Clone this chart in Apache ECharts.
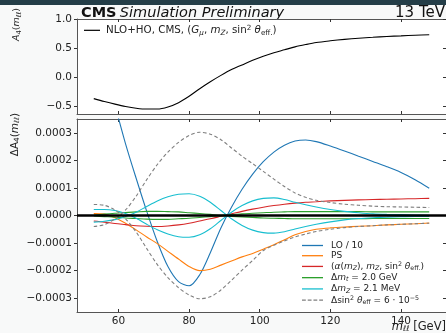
<!DOCTYPE html>
<html>
<head>
<meta charset="utf-8">
<script src="https://cdn.jsdelivr.net/npm/echarts@6/dist/echarts.min.js"></script>
<style>
html,body{margin:0;padding:0;background:#f8f9f9;}
#c{width:446px;height:333px;}
</style>
</head>
<body>
<div id="c"></div>
<script>
// m_ll grid [GeV]
var mll = [53,56,59,62,65,68,71,74,77,80,83,86,89,92,95,98,101,104,107,110,113,116,120,124,128,132,136,140,144,148];
// top panel: A4 (NLO+HO)
var a4 = [-0.37,-0.42,-0.465,-0.505,-0.535,-0.55,-0.55,-0.515,-0.44,-0.33,-0.2,-0.08,0.03,0.13,0.21,0.29,0.36,0.42,0.47,0.52,0.56,0.595,0.625,0.65,0.67,0.685,0.70,0.71,0.72,0.73];
// bottom panel: Delta A4, in units of 1e-4
var lo10 = [6.5,5.4,4.0,2.6,1.35,0.15,-0.95,-1.85,-2.4,-2.55,-2.15,-1.35,-0.45,0.3,0.95,1.5,1.95,2.3,2.55,2.7,2.74,2.68,2.52,2.34,2.15,1.96,1.77,1.56,1.3,0.99];
var ps = [0.07,0.05,-0.08,-0.28,-0.52,-0.78,-1.02,-1.3,-1.58,-1.85,-2.0,-1.95,-1.8,-1.65,-1.5,-1.38,-1.22,-1.06,-0.88,-0.7,-0.58,-0.5,-0.45,-0.42,-0.39,-0.37,-0.34,-0.32,-0.3,-0.27];
var alphaScheme = [-0.2,-0.24,-0.29,-0.33,-0.37,-0.39,-0.40,-0.38,-0.34,-0.28,-0.2,-0.12,-0.03,0.06,0.15,0.23,0.3,0.36,0.41,0.45,0.48,0.5,0.53,0.55,0.565,0.58,0.59,0.6,0.61,0.62];
var dmtUp = [0.02,0.05,0.08,0.11,0.13,0.15,0.15,0.14,0.13,0.1,0.07,0.04,0.01,0.03,0.06,0.08,0.1,0.12,0.13,0.14,0.14,0.14,0.14,0.14,0.14,0.13,0.13,0.13,0.13,0.13];
var dmtDn = [-0.02,-0.04,-0.06,-0.09,-0.11,-0.13,-0.14,-0.14,-0.12,-0.1,-0.07,-0.04,-0.01,-0.03,-0.05,-0.07,-0.09,-0.1,-0.11,-0.12,-0.12,-0.12,-0.12,-0.12,-0.12,-0.11,-0.11,-0.11,-0.11,-0.11];
var dmzA = [0.22,0.22,0.18,0.07,-0.1,-0.32,-0.52,-0.67,-0.77,-0.79,-0.7,-0.48,-0.18,0.12,0.36,0.53,0.62,0.64,0.58,0.48,0.39,0.31,0.22,0.15,0.1,0.06,0.04,0.03,0.02,0.01];
var dmzB = [-0.24,-0.21,-0.15,-0.04,0.12,0.33,0.53,0.68,0.77,0.79,0.7,0.48,0.18,-0.12,-0.36,-0.53,-0.62,-0.64,-0.59,-0.49,-0.4,-0.32,-0.23,-0.16,-0.11,-0.08,-0.06,-0.04,-0.03,-0.03];
var dsinUp = [-0.40,-0.33,-0.12,0.2,0.7,1.3,1.85,2.3,2.65,2.9,3.02,2.95,2.75,2.45,2.15,1.88,1.6,1.32,1.05,0.82,0.66,0.55,0.47,0.41,0.37,0.34,0.32,0.31,0.3,0.29];
var dsinDn = [0.40,0.37,0.2,-0.12,-0.6,-1.2,-1.78,-2.25,-2.62,-2.88,-3.02,-2.95,-2.7,-2.35,-1.98,-1.63,-1.27,-1.08,-0.92,-0.78,-0.67,-0.58,-0.5,-0.44,-0.4,-0.37,-0.34,-0.32,-0.3,-0.28];
// ticks
var xTicks = [60,80,100,120,140];
var topTicks = [-0.5,0,0.5,1.0];
var botTicks = [-3,-2,-1,0,1,2,3];

function pairs(v){ return mll.map(function(x,i){ return [x, v[i]]; }); }
var FF = 'DejaVu Sans';
function mkRich(fs, lh){
  var ss = fs*0.7, pd = fs*0.45;
  return {
    n:{fontSize:fs,fontFamily:FF,color:'#222',lineHeight:lh},
    i:{fontSize:fs,fontFamily:FF,fontStyle:'italic',color:'#222',lineHeight:lh},
    s:{fontSize:ss,fontFamily:FF,fontStyle:'italic',color:'#222',padding:[pd,0,0,0],lineHeight:lh},
    sn:{fontSize:ss,fontFamily:FF,color:'#222',padding:[pd,0,0,0],lineHeight:lh},
    p:{fontSize:ss,fontFamily:FF,color:'#222',padding:[0,0,pd,0],lineHeight:lh}
  };
}
var labels = {
  'LO / 10':'{n|LO / 10}',
  'PS':'{n|PS}',
  'alpha':'{n|(}{i|α}{n|(}{i|m}{s|Z}{n|), }{i|m}{s|Z}{n|, sin}{p|2}{n| }{i|θ}{sn|eff.}{n|)}',
  'dmt':'{n|Δ}{i|m}{s|t}{n| = 2.0 GeV}',
  'dmz':'{n|Δ}{i|m}{s|Z}{n| = 2.1 MeV}',
  'dsin':'{n|Δsin}{p|2}{n| }{i|θ}{sn|eff}{n| = 6 · 10}{p|−5}',
  'NLO':'{n|NLO+HO, CMS, (}{i|G}{s|μ}{n|, }{i|m}{s|Z}{n|, sin}{p|2}{n| }{i|θ}{sn|eff.}{n|)}'
};
var solidIcon = 'path://M0,0H22V1H0Z';
var dashIcon = 'path://M0,0H4V1H0Z M6,0H10V1H6Z M12,0H16V1H12Z M18,0H22V1H18Z';
var axisCol = '#555';
function xa(grid, pos, showLabel){
  return {type:'value', gridIndex:grid, position:pos, min:48.25, max:152.75,
    axisLine:{show:true,onZero:false,lineStyle:{color:axisCol,width:1}},
    axisTick:{show:true,inside:true,length:3,customValues:xTicks,lineStyle:{color:'#333'}},
    axisLabel:{show:showLabel,customValues:xTicks,margin:4,fontFamily:FF,fontSize:10.5,color:'#222'},
    splitLine:{show:false}};
}
function ya(grid, pos, ticks, mn, mx, fmt, showLabel){
  return {type:'value', gridIndex:grid, position:pos, min:mn, max:mx,
    axisLine:{show:true,onZero:false,lineStyle:{color:axisCol,width:1}},
    axisTick:{show:true,inside:pos==='right',length:3,customValues:ticks,lineStyle:{color:'#333'}},
    axisLabel:{show:showLabel,customValues:ticks,margin:5,fontFamily:FF,fontSize:10.5,color:'#222',formatter:fmt},
    splitLine:{show:false}};
}
function fmtTop(v){ return (v<0?'−':'')+Math.abs(v).toFixed(1); }
function fmtBot(v){ return (v<0?'−':'')+(Math.abs(v)*1e-4).toFixed(4); }
function ln(name, data, color, xi, yi, dashed){
  return {type:'line', name:name, data:pairs(data), xAxisIndex:xi, yAxisIndex:yi,
    smooth:0.3, showSymbol:false, symbol:'none', clip:true,
    lineStyle:{color:color,width:1.1,type:dashed?[3.5,2.5]:'solid'}, itemStyle:{color:color},
    emphasis:{disabled:true}, z:3};
}
var chart = echarts.init(document.getElementById('c'), null, {renderer:'canvas'});
chart.setOption({
  animation:false,
  backgroundColor:'#f8f9f9',
  grid:[
    {left:77, top:19, width:370, height:95, show:true, backgroundColor:'#ffffff', borderWidth:0},
    {left:77, top:119, width:370, height:193, show:true, backgroundColor:'#ffffff', borderWidth:0}
  ],
  xAxis:[xa(0,'bottom',false), xa(0,'top',false), xa(1,'bottom',true), xa(1,'top',false)],
  yAxis:[ya(0,'left',topTicks,-0.635,1.0,fmtTop,true), ya(0,'right',topTicks,-0.635,1.0,fmtTop,false),
         ya(1,'left',botTicks,-3.5,3.5,fmtBot,true), ya(1,'right',botTicks,-3.5,3.5,fmtBot,false)],
  legend:[
    {data:[{name:'NLO',icon:solidIcon}], left:79, top:19.5, orient:'vertical', itemWidth:16, itemHeight:1.2,
     symbolKeepAspect:false,
     formatter:function(n){return labels[n];}, textStyle:{rich:mkRich(10.3,12), padding:[0,0,0,1]}, selectedMode:false},
    {data:[{name:'LO / 10',icon:solidIcon},{name:'PS',icon:solidIcon},{name:'alpha',icon:solidIcon},
           {name:'dmt',icon:solidIcon},{name:'dmz',icon:solidIcon},{name:'dsin',icon:dashIcon}],
     left:297, top:236, orient:'vertical', symbolKeepAspect:false,
     itemWidth:21, itemHeight:1.3, itemGap:1.2,
     formatter:function(n){return labels[n];}, textStyle:{rich:mkRich(9,11), padding:[0,0,0,3]}, selectedMode:false}
  ],
  series:[
    ln('NLO', a4, '#000000', 0, 0, false),
    ln('LO / 10', lo10, '#1f77b4', 2, 2, false),
    ln('PS', ps, '#ff7f0e', 2, 2, false),
    ln('alpha', alphaScheme, '#d62728', 2, 2, false),
    ln('dmt', dmtUp, '#2ca02c', 2, 2, false),
    ln('dmt', dmtDn, '#2ca02c', 2, 2, false),
    ln('dmz', dmzA, '#17becf', 2, 2, false),
    ln('dmz', dmzB, '#17becf', 2, 2, false),
    ln('dsin', dsinUp, '#7f7f7f', 2, 2, true),
    ln('dsin', dsinDn, '#7f7f7f', 2, 2, true),
    {type:'line', name:'zero', data:[], xAxisIndex:2, yAxisIndex:2, z:5,
     markLine:{silent:true, symbol:'none', label:{show:false}, animation:false,
       lineStyle:{color:'#000',width:2.6,type:'solid'}, data:[{yAxis:0}]}}
  ],
  graphic:[
    {type:'rect', shape:{x:0,y:0,width:446,height:5}, style:{fill:'#243e48'}, z:100},
    {type:'text', left:81, top:6, style:{text:'{b|CMS} {it|Simulation Preliminary}',
      rich:{b:{fontSize:14.5,fontWeight:'bold',fontFamily:FF,fill:'#111'},
            it:{fontSize:14.5,fontStyle:'italic',fontFamily:FF,fill:'#111'}}}},
    {type:'text', right:1, top:6, style:{text:'13 TeV', fontSize:15, fontFamily:FF, fill:'#111'}},
    {type:'text', x:11, y:8, rotation:Math.PI/2, originX:0, originY:0,
      style:{text:'{i|A}{sn|4}{n|(}{i|m}{s|ℓℓ}{n|)}', align:'right', verticalAlign:'top',
        rich:{i:{fontSize:9.5,fontStyle:'italic',fontFamily:FF,fill:'#222',lineHeight:12},
              n:{fontSize:9.5,fontFamily:FF,fill:'#222',lineHeight:12},
              s:{fontSize:6.8,fontStyle:'italic',fontFamily:FF,fill:'#222',padding:[4,0,0,0],lineHeight:12},
              sn:{fontSize:6.8,fontFamily:FF,fill:'#222',padding:[4,0,0,0],lineHeight:12}}}},
    {type:'text', x:9, y:113, rotation:Math.PI/2, originX:0, originY:0,
      style:{text:'{n|ΔA}{sn|4}{n|(}{i|m}{s|ℓℓ}{n|)}', align:'right', verticalAlign:'top',
        rich:{i:{fontSize:10.5,fontStyle:'italic',fontFamily:FF,fill:'#222',lineHeight:12},
              n:{fontSize:10.5,fontFamily:FF,fill:'#222',lineHeight:12},
              s:{fontSize:7.2,fontStyle:'italic',fontFamily:FF,fill:'#222',padding:[4,0,0,0],lineHeight:12},
              sn:{fontSize:7.2,fontFamily:FF,fill:'#222',padding:[4,0,0,0],lineHeight:12}}}},
    {type:'text', right:0, top:321, style:{text:'{i|m}{s|ℓℓ}{n| [GeV]}',
        rich:{i:{fontSize:11.5,fontStyle:'italic',fontFamily:FF,fill:'#222',lineHeight:13},
              n:{fontSize:11.5,fontFamily:FF,fill:'#222',lineHeight:13},
              s:{fontSize:7.8,fontStyle:'italic',fontFamily:FF,fill:'#222',padding:[4,0,0,0],lineHeight:13}}}}
  ]
});
</script>
</body>
</html>
